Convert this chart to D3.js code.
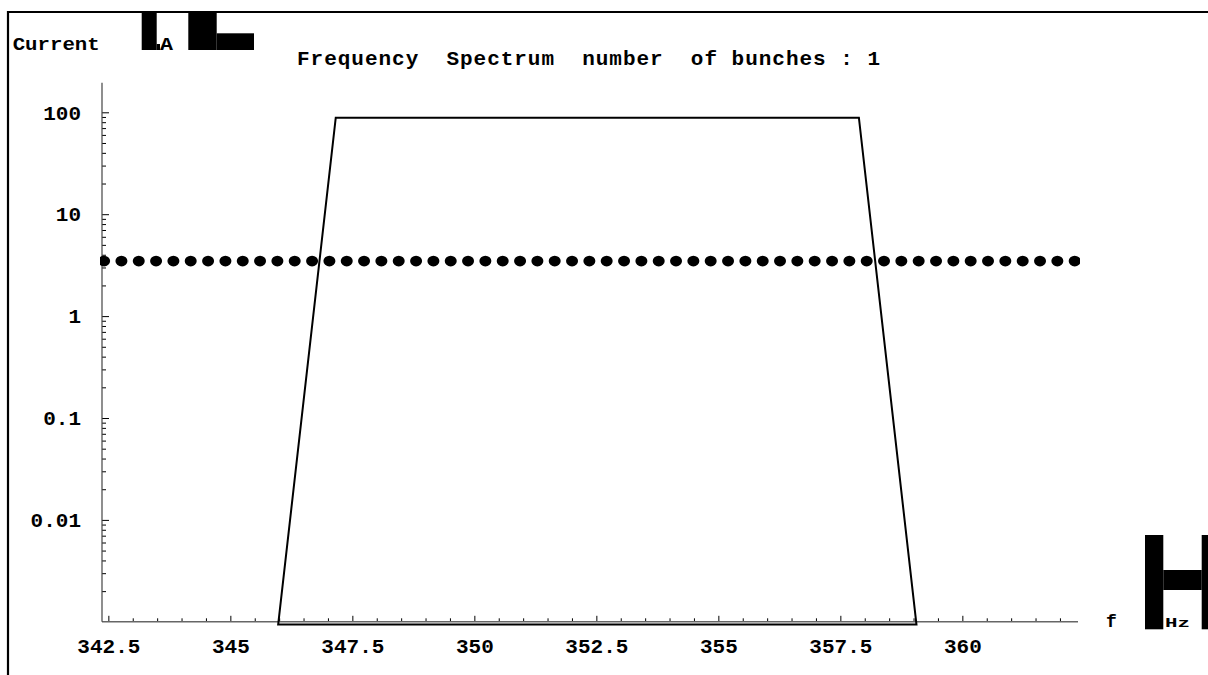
<!DOCTYPE html>
<html>
<head>
<meta charset="utf-8">
<script src="https://cdn.jsdelivr.net/npm/d3@7"></script>
<style>
  html, body { margin: 0; padding: 0; background: #fff; }
  svg { display: block; }
  text { font-family: "Liberation Mono", "DejaVu Sans Mono", monospace; font-weight: bold; fill: #000; }
</style>
</head>
<body>
<svg id="chart" width="1208" height="675"></svg>
<script>
// Single-bunch frequency spectrum: RF passband envelope and revolution harmonics (log current scale)

// Passband envelope (frequency in MHz, current in mA)
const envelopeFreq = [345.98, 347.16, 357.88, 359.06];
const envelopeCurrent = [0.00094, 88.5, 88.5, 0.00094];

// Revolution-frequency harmonic lines (MHz) and their current (mA)
const harmonicFreq = [
  342.413, 342.768, 343.123, 343.478, 343.833, 344.188, 344.544, 344.899, 345.254, 345.609,
  345.964, 346.319, 346.675, 347.030, 347.385, 347.740, 348.095, 348.450, 348.806, 349.161,
  349.516, 349.871, 350.226, 350.581, 350.937, 351.292, 351.647, 352.002, 352.357, 352.712,
  353.068, 353.423, 353.778, 354.133, 354.488, 354.843, 355.199, 355.554, 355.909, 356.264,
  356.619, 356.974, 357.330, 357.685, 358.040, 358.395, 358.750, 359.105, 359.461, 359.816,
  360.171, 360.526, 360.881, 361.237, 361.592, 361.947, 362.302
];
const harmonicCurrent = [
  3.47, 3.47, 3.47, 3.47, 3.47, 3.47, 3.47, 3.47, 3.47, 3.47,
  3.47, 3.47, 3.47, 3.47, 3.47, 3.47, 3.47, 3.47, 3.47, 3.47,
  3.47, 3.47, 3.47, 3.47, 3.47, 3.47, 3.47, 3.47, 3.47, 3.47,
  3.47, 3.47, 3.47, 3.47, 3.47, 3.47, 3.47, 3.47, 3.47, 3.47,
  3.47, 3.47, 3.47, 3.47, 3.47, 3.47, 3.47, 3.47, 3.47, 3.47,
  3.47, 3.47, 3.47, 3.47, 3.47, 3.47, 3.47
];

// Axis ticks
const xMajorTicks = [342.5, 345, 347.5, 350, 352.5, 355, 357.5, 360];
const xTickLabels = ["342.5", "345", "347.5", "350", "352.5", "355", "357.5", "360"];
const yMajorTicks = [0.01, 0.1, 1, 10, 100];
const yTickLabels = ["0.01", "0.1", "1", "10", "100"];

const titleText = "Frequency  Spectrum  number  of bunches : 1";

const svg = d3.select("#chart");

// Scales
const x = d3.scaleLinear().domain([342.37, 362.37]).range([102, 1078]);
const y = d3.scaleLog().domain([0.001, 100]).range([621.8, 112.3]);
const yTopValue = 195;
const yBottomValue = 0.001;

// Outer frame (top and left rules)
svg.append("line").attr("x1", 8).attr("x2", 1208).attr("y1", 12).attr("y2", 12)
  .attr("stroke", "#000").attr("stroke-width", 2.2);
svg.append("line").attr("x1", 8).attr("x2", 8).attr("y1", 11).attr("y2", 675)
  .attr("stroke", "#000").attr("stroke-width", 2.2);

// Minor ticks
const xMinor = d3.range(342.5, 362.3, 0.5).filter(v => !xMajorTicks.some(m => Math.abs(m - v) < 1e-6));
const yMinor = [];
[0.001, 0.01, 0.1, 1, 10, 100].forEach(d => {
  for (let k = 2; k <= 9; k++) { const v = d * k; if (v <= yTopValue) yMinor.push(v); }
});

const gx = svg.append("g").attr("transform", `translate(0,${y(yBottomValue)})`);
gx.call(d3.axisBottom(x).tickValues(xMinor).tickSize(-3.5).tickFormat(""));
gx.call(g => g.select(".domain").remove());
const gxMajor = svg.append("g").attr("transform", `translate(0,${y(yBottomValue)})`);
gxMajor.call(d3.axisBottom(x).tickValues(xMajorTicks).tickSize(-6).tickPadding(16)
  .tickFormat((d, i) => xTickLabels[i]));
gxMajor.call(g => g.select(".domain").remove());
gxMajor.selectAll("text").attr("font-size", 21).style("font-family", "'Liberation Mono', monospace").style("font-weight", "bold");

const gy = svg.append("g").attr("transform", `translate(${x.range()[0]},0)`);
gy.call(d3.axisLeft(y).tickValues(yMinor).tickSize(-4).tickFormat(""));
gy.call(g => g.select(".domain").remove());
const gyMajor = svg.append("g").attr("transform", `translate(${x.range()[0]},0)`);
gyMajor.call(d3.axisLeft(y).tickValues(yMajorTicks).tickSize(-7).tickPadding(21)
  .tickFormat((d, i) => yTickLabels[i]));
gyMajor.call(g => g.select(".domain").remove());
gyMajor.selectAll("text").attr("font-size", 21).style("font-family", "'Liberation Mono', monospace").style("font-weight", "bold");

svg.selectAll(".tick line").attr("stroke", "#000").attr("stroke-width", 1);

// Axis lines
svg.append("line")
  .attr("x1", x.range()[0]).attr("x2", x.range()[1])
  .attr("y1", y(yBottomValue)).attr("y2", y(yBottomValue))
  .attr("stroke", "#666").attr("stroke-width", 1.4);
svg.append("line")
  .attr("x1", x.range()[0]).attr("x2", x.range()[0])
  .attr("y1", y(yBottomValue)).attr("y2", y(yTopValue))
  .attr("stroke", "#444").attr("stroke-width", 1.2);

// Passband envelope
const envelope = envelopeFreq.map((f, i) => [f, envelopeCurrent[i]]);
svg.append("path")
  .attr("d", d3.line().x(d => x(d[0])).y(d => y(d[1]))(envelope) + "Z")
  .attr("fill", "none").attr("stroke", "#000").attr("stroke-width", 2)
  .attr("stroke-linejoin", "miter");

// Harmonic lines (clipped to plot range)
svg.append("clipPath").attr("id", "plotClip")
  .append("rect").attr("x", 100).attr("y", 0).attr("width", 980).attr("height", 675);
svg.append("g").attr("clip-path", "url(#plotClip)")
  .selectAll("ellipse")
  .data(harmonicFreq.map((f, i) => [f, harmonicCurrent[i]]))
  .join("ellipse")
  .attr("cx", d => x(d[0])).attr("cy", d => y(d[1]))
  .attr("rx", 6).attr("ry", 5.4)
  .attr("fill", "#000");

// Labels
svg.append("text").attr("x", 12.7).attr("y", 49.5).attr("font-size", 18)
  .attr("textLength", 87).attr("lengthAdjust", "spacingAndGlyphs").text("Current");
svg.append("text").attr("x", 160).attr("y", 49.5).attr("font-size", 18)
  .attr("textLength", 13).attr("lengthAdjust", "spacingAndGlyphs").text("A");
svg.append("text").attr("x", 297).attr("y", 65).attr("font-size", 21)
  .attr("textLength", 583).attr("lengthAdjust", "spacing").style("white-space", "pre")
  .text(titleText);
svg.append("text").attr("x", 1106).attr("y", 627).attr("font-size", 18).text("f");
svg.append("text").attr("x", 1165).attr("y", 627).attr("font-size", 13)
  .attr("textLength", 25).attr("lengthAdjust", "spacingAndGlyphs").text("Hz");

// Solid unit-symbol glyph blocks
const blocks = [
  [141.7, 12, 15, 38], [156.7, 44, 3.3, 6],
  [188.3, 12, 28.4, 38], [216.7, 33.3, 37.3, 16.7],
  [1145, 535, 18.3, 94.3], [1163.3, 570, 38.4, 20], [1201.7, 535, 6.3, 94.3]
];
svg.append("g").selectAll("rect").data(blocks).join("rect")
  .attr("x", d => d[0]).attr("y", d => d[1]).attr("width", d => d[2]).attr("height", d => d[3])
  .attr("fill", "#000");
</script>
</body>
</html>
